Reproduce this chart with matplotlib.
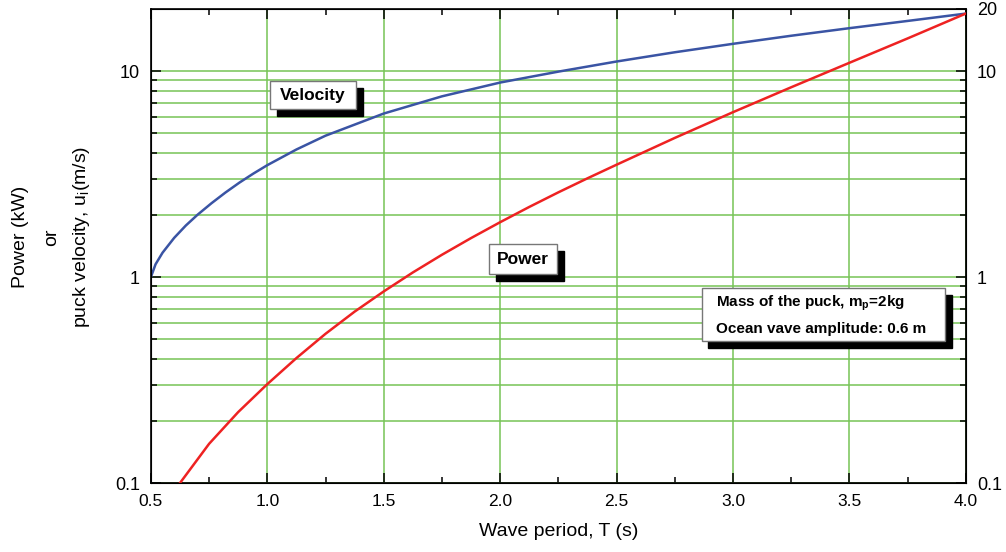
import matplotlib
matplotlib.use("Agg")
import matplotlib.pyplot as plt
from matplotlib.patches import Rectangle
from matplotlib.ticker import FixedLocator, NullFormatter

plt.rcParams["font.family"] = ["Liberation Sans", "DejaVu Sans"]
plt.rcParams["mathtext.fontset"] = "custom"
plt.rcParams["mathtext.rm"] = "Liberation Sans"
plt.rcParams["mathtext.bf"] = "Liberation Sans:bold"

# values
vel_T = [0.5, 0.52, 0.55, 0.6, 0.65, 0.7, 0.76, 0.82, 0.88, 0.94, 1.0,
         1.125, 1.25, 1.5, 1.75, 2.0, 2.25, 2.5, 2.75, 3.0, 3.25, 3.5, 3.75, 4.0]
velocity = [1.0, 1.153, 1.312, 1.549, 1.778, 2.004, 2.28, 2.57, 2.871, 3.177, 3.491,
            4.159, 4.853, 6.216, 7.534, 8.79, 9.93, 11.12, 12.33, 13.55, 14.83,
            16.14, 17.5, 19.0]

pow_T = [0.625, 0.75, 0.875, 1.0, 1.125, 1.25, 1.375, 1.5, 1.625, 1.75, 1.875,
         2.0, 2.125, 2.25, 2.375, 2.5, 2.75, 3.0, 3.25, 3.5, 3.75, 4.0]
power = [0.1, 0.155, 0.221, 0.302, 0.404, 0.530, 0.679, 0.851, 1.052, 1.282, 1.545,
         1.845, 2.188, 2.576, 3.013, 3.508, 4.732, 6.31, 8.337, 10.96, 14.39, 19.0]

x_ticks = [0.5, 1.0, 1.5, 2.0, 2.5, 3.0, 3.5, 4.0]
left_ticks = [0.1, 1, 10]
right_ticks = [0.1, 1, 10, 20]

grid_green = "#76c456"

fig = plt.figure(figsize=(10.06, 5.52), dpi=100)
ax = fig.add_axes([0.150, 0.125, 0.810, 0.8587])

ax.plot(vel_T, velocity, color="#3a54a4", lw=1.8, zorder=3, solid_joinstyle="round")
ax.plot(pow_T, power, color="#ee2222", lw=1.8, zorder=3, solid_joinstyle="round")

ax.set_yscale("log")
ax.set_xlim(0.5, 4.0)
ax.set_ylim(0.1, 20)

minor_y = [m * d for d in (0.1, 1) for m in range(2, 10)]
ax.set_xticks(x_ticks)
ax.set_xticklabels([f"{t:.1f}" for t in x_ticks], fontsize=12.5)
ax.xaxis.set_minor_locator(FixedLocator([0.75, 1.25, 1.75, 2.25, 2.75, 3.25, 3.75]))
ax.set_yticks(left_ticks)
ax.set_yticklabels(["0.1", "1", "10"], fontsize=13)
ax.yaxis.set_minor_locator(FixedLocator(minor_y))
ax.yaxis.set_minor_formatter(NullFormatter())

ax.tick_params(which="both", direction="in", top=True, right=True, width=1.1)
ax.tick_params(which="major", length=7, pad=8)
ax.tick_params(which="minor", length=4.5)

ax.grid(True, axis="x", which="major", color=grid_green, lw=1.1)
ax.grid(True, axis="y", which="both", color=grid_green, lw=1.1)
ax.set_axisbelow(True)
for s in ax.spines.values():
    s.set_linewidth(1.2)

ax2 = ax.twinx()
ax2.set_yscale("log")
ax2.set_ylim(0.1, 20)
ax2.set_yticks(right_ticks)
ax2.set_yticklabels(["0.1", "1", "10", "20"], fontsize=13)
ax2.yaxis.set_minor_locator(FixedLocator(minor_y))
ax2.yaxis.set_minor_formatter(NullFormatter())
ax2.tick_params(which="both", direction="in", width=1.1)
ax2.tick_params(which="major", length=7, pad=8)
ax2.tick_params(which="minor", length=4.5)

ax.set_xlabel("Wave period, T (s)", fontsize=14, labelpad=10)

# three-line y label
fig.text(20.7 / 1006, 1 - 237 / 552, "Power (kW)", rotation=90, fontsize=14,
         ha="center", va="center")
fig.text(51.7 / 1006, 1 - 237 / 552, "or", rotation=90, fontsize=14,
         ha="center", va="center")
fig.text(81.7 / 1006, 1 - 237 / 552, r"puck velocity, u$_\mathrm{i}$(m/s)", rotation=90,
         fontsize=14, ha="center", va="center")


def shadow_box(x0, y0, x1, y1):
    dx, dy = 7 / 815, 7 / 474
    ax.add_patch(Rectangle((x0 + dx, y0 - dy), x1 - x0, y1 - y0, transform=ax.transAxes,
                           facecolor="black", edgecolor="black", zorder=5))
    ax.add_patch(Rectangle((x0, y0), x1 - x0, y1 - y0, transform=ax.transAxes,
                           facecolor="white", edgecolor="#777777", lw=1.0, zorder=6))


shadow_box(0.146, 0.7884, 0.2515, 0.848)
ax.text((0.146 + 0.2515) / 2, (0.7884 + 0.848) / 2, "Velocity", transform=ax.transAxes,
        ha="center", va="center", fontsize=12.5, fontweight="bold", zorder=7)

shadow_box(0.4147, 0.4409, 0.4978, 0.5042)
ax.text((0.4147 + 0.4978) / 2, (0.4409 + 0.5042) / 2, "Power", transform=ax.transAxes,
        ha="center", va="center", fontsize=12.5, fontweight="bold", zorder=7)

shadow_box(0.6757, 0.3002, 0.9742, 0.4108)
ax.text(0.694, 0.379, r"Mass of the puck, m$_\mathbf{p}$=2kg", transform=ax.transAxes,
        ha="left", va="center", fontsize=11, fontweight="bold", zorder=7)
ax.text(0.694, 0.3243, "Ocean vave amplitude: 0.6 m", transform=ax.transAxes,
        ha="left", va="center", fontsize=11, fontweight="bold", zorder=7)

fig.savefig("out.png", dpi=100)
